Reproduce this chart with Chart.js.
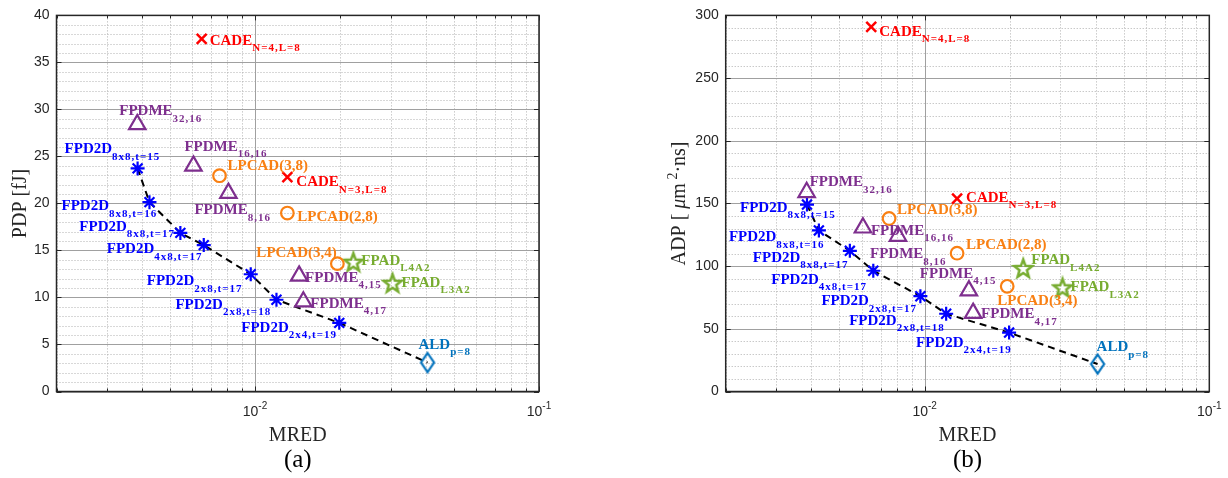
<!DOCTYPE html>
<html>
<head>
<meta charset="utf-8">
<script src="https://cdn.jsdelivr.net/npm/chart.js@4.4.1/dist/chart.umd.min.js"></script>
<style>
  body { margin: 0; background: #fff; }
  .quadro { position: absolute; top: 0; width: 614px; height: 478px; }
</style>
</head>
<body>
<div class="quadro" style="left:0"><canvas id="grafico-pdp"></canvas></div>
<div class="quadro" style="left:614px"><canvas id="grafico-adp"></canvas></div>
<script>
// ---- dados ----
const cadeMred = [0.00649, 0.0130];
const cadePdp = [37.5, 22.8];
const cadeAdp = [290.8, 153.9];
const cadeSub = ['N=4,L=8', 'N=3,L=8'];

const fpdmeMred = [0.00385, 0.00607, 0.00806, 0.0143, 0.0148];
const fpdmePdp = [28.4, 24.0, 21.1, 12.3, 9.55];
const fpdmeAdp = [158.9, 130.6, 124.0, 80.5, 62.5];
const fpdmeSub = ['32,16', '16,16', '8,16', '4,15', '4,17'];

const lpcadMred = [0.0075, 0.0130, 0.0195];
const lpcadPdp = [22.95, 18.98, 13.6];
const lpcadAdp = [138.0, 110.3, 83.9];
const lpcadNomes = ['LPCAD(3,8)', 'LPCAD(2,8)', 'LPCAD(3,4)'];

const fpadMred = [0.0222, 0.0305];
const fpadPdp = [13.8, 11.56];
const fpadAdp = [98.5, 83.1];
const fpadSub = ['L4A2', 'L3A2'];

const fpd2dMred = [0.00386, 0.00425, 0.00546, 0.0066, 0.00966, 0.0119, 0.0198];
const fpd2dPdp = [23.73, 20.14, 16.87, 15.57, 12.47, 9.76, 7.30];
const fpd2dAdp = [149.1, 128.5, 112.2, 96.3, 76.0, 62.0, 47.0];
const fpd2dSub = ['8x8,t=15', '8x8,t=16', '8x8,t=17', '4x8,t=17', '2x8,t=17', '2x8,t=18', '2x4,t=19'];

const aldMred = [0.0405];
const aldPdp = [3.08];
const aldAdp = [21.9];
const aldSub = ['p=8'];

const pdpTicks = [0, 5, 10, 15, 20, 25, 30, 35, 40];
const adpTicks = [0, 50, 100, 150, 200, 250, 300];
const mredTicks = [0.01, 0.1];

// deslocamento dos rótulos (px) em relação ao marcador
const rotulosPdp = {
  cade: [[8, 6], [9, 9]],
  fpdme: [[-18, -9], [-9, -15], [-34, 21], [6, 6], [7, 6]],
  lpcad: [[8, -6], [10, 8], [-81, -7]],
  fpad: [[8, 3], [9, 4]],
  fpd2d: [[-73, -15], [-88, 8], [-101, -2], [-97, 8], [-104, 11], [-101, 9], [-98, 9]],
  ald: [[-9, -14]]
};
const rotulosAdp = {
  cade: [[8, 9], [9, 3]],
  fpdme: [[3, -6], [8, 7], [-28, 22], [-49, -13], [8, 5]],
  lpcad: [[8, -4], [9, -4], [-10, 19]],
  fpad: [[8, -4], [8, 4]],
  fpd2d: [[-67, 7], [-90, 11], [-97, 11], [-102, 13], [-99, 9], [-97, 11], [-93, 14]],
  ald: [[-1, -13]]
};

const CORES = {
  cade: '#FF0000', fpdme: '#7E2F8E', lpcad: '#F98013',
  fpad: '#77AC30', fpd2d: '#0000FF', ald: '#0072BD'
};
const SERIF = '"Liberation Serif", "Times New Roman", serif';
const SANS = '"Liberation Sans", Arial, sans-serif';

function pontos(xs, ys) {
  return xs.map((x, i) => ({ x, y: ys[i] }));
}

function criarPentagrama(cor) {
  const c = document.createElement('canvas');
  c.width = 24; c.height = 24;
  const g = c.getContext('2d');
  g.beginPath();
  for (let k = 0; k < 10; k++) {
    const r = k % 2 === 0 ? 9.5 : 3.9;
    const a = -Math.PI / 2 + k * Math.PI / 5;
    const px = 12 + r * Math.cos(a), py = 13 + r * Math.sin(a);
    if (k === 0) g.moveTo(px, py); else g.lineTo(px, py);
  }
  g.closePath();
  g.strokeStyle = cor; g.lineWidth = 2.5; g.stroke();
  return c;
}

function criarLosango(cor) {
  const c = document.createElement('canvas');
  c.width = 18; c.height = 24;
  const g = c.getContext('2d');
  g.beginPath();
  g.moveTo(9, 2.5); g.lineTo(15.5, 12); g.lineTo(9, 21.5); g.lineTo(2.5, 12);
  g.closePath();
  g.strokeStyle = cor; g.lineWidth = 2.2; g.stroke();
  return c;
}

// desenha uma sequência de trechos [texto, fonte, elevação]
function larguraPartes(ctx, partes) {
  let w = 0;
  partes.forEach(p => { ctx.font = p[1]; w += ctx.measureText(p[0]).width; });
  return w;
}
function desenharPartes(ctx, partes, x, y) {
  partes.forEach(p => {
    ctx.font = p[1];
    ctx.fillText(p[0], x, y + (p[2] || 0));
    x += ctx.measureText(p[0]).width;
  });
}

function pluginDesenho(cfg) {
  return {
    id: 'desenho-' + cfg.letra,
    beforeDatasetsDraw(chart) {
      const { ctx, chartArea: a, scales: { x, y } } = chart;
      const ehDecada = v => Math.abs(Math.log10(v) - Math.round(Math.log10(v))) < 1e-6;
      ctx.save();
      ctx.lineWidth = 1;
      // grade secundária pontilhada
      ctx.setLineDash([1, 2]);
      ctx.strokeStyle = '#b0b0b0';
      x.ticks.forEach(t => {
        if (ehDecada(t.value)) return;
        const px = Math.round(x.getPixelForValue(t.value)) + 0.5;
        ctx.beginPath(); ctx.moveTo(px, a.top); ctx.lineTo(px, a.bottom); ctx.stroke();
      });
      y.ticks.forEach(t => {
        if (cfg.yMaiores.includes(t.value)) return;
        const py = Math.round(y.getPixelForValue(t.value)) + 0.5;
        ctx.beginPath(); ctx.moveTo(a.left, py); ctx.lineTo(a.right, py); ctx.stroke();
      });
      // grade principal
      ctx.setLineDash([]);
      ctx.strokeStyle = '#a0a0a0';
      x.ticks.forEach(t => {
        if (!ehDecada(t.value)) return;
        const px = Math.round(x.getPixelForValue(t.value)) + 0.5;
        ctx.beginPath(); ctx.moveTo(px, a.top); ctx.lineTo(px, a.bottom); ctx.stroke();
      });
      cfg.yMaiores.forEach(v => {
        const py = Math.round(y.getPixelForValue(v)) + 0.5;
        ctx.beginPath(); ctx.moveTo(a.left, py); ctx.lineTo(a.right, py); ctx.stroke();
      });
      ctx.restore();
    },
    afterDatasetsDraw(chart) {
      const { ctx, chartArea: a, scales: { x, y } } = chart;
      ctx.save();
      // rótulos dos pontos
      chart.data.datasets.forEach((ds, i) => {
        if (!ds.rotulos) return;
        const meta = chart.getDatasetMeta(i);
        ctx.fillStyle = ds.rotulos.cor;
        ctx.textAlign = 'left';
        ctx.textBaseline = 'alphabetic';
        meta.data.forEach((el, j) => {
          const [dx, dy] = ds.rotulos.offsets[j];
          const tx = el.x + dx, ty = el.y + dy;
          ctx.font = 'bold 15px ' + SERIF;
          ctx.letterSpacing = '0px';
          const principal = ds.rotulos.principal[j];
          ctx.fillText(principal, tx, ty);
          const sub = ds.rotulos.sub ? ds.rotulos.sub[j] : '';
          if (sub) {
            const w = ctx.measureText(principal).width;
            ctx.font = 'bold 11px ' + SERIF;
            ctx.letterSpacing = '1px';
            ctx.fillText(sub, tx + w, ty + 6.5);
          }
        });
      });
      ctx.letterSpacing = '0px';

      // caixa dos eixos
      ctx.strokeStyle = '#262626';
      ctx.lineWidth = 1.5;
      ctx.strokeRect(a.left, a.top, a.right - a.left, a.bottom - a.top);
      ctx.lineWidth = 1;
      const ehDecada = v => Math.abs(Math.log10(v) - Math.round(Math.log10(v))) < 1e-6;
      x.ticks.forEach(t => {
        const px = Math.round(x.getPixelForValue(t.value)) + 0.5;
        const L = ehDecada(t.value) ? 5 : 3;
        ctx.beginPath();
        ctx.moveTo(px, a.bottom); ctx.lineTo(px, a.bottom - L);
        ctx.moveTo(px, a.top); ctx.lineTo(px, a.top + L);
        ctx.stroke();
      });
      cfg.yMaiores.forEach(v => {
        const py = Math.round(y.getPixelForValue(v)) + 0.5;
        ctx.beginPath();
        ctx.moveTo(a.left, py); ctx.lineTo(a.left + 5, py);
        ctx.moveTo(a.right, py); ctx.lineTo(a.right - 5, py);
        ctx.stroke();
      });

      // rótulos do eixo x (10^-2, 10^-1)
      ctx.fillStyle = '#262626';
      ctx.textBaseline = 'alphabetic';
      ctx.textAlign = 'left';
      mredTicks.forEach(v => {
        const expo = String(Math.round(Math.log10(v)));
        const partes = [['10', '14px ' + SANS, 0], [expo, '10px ' + SANS, -7]];
        const w = larguraPartes(ctx, partes);
        desenharPartes(ctx, partes, x.getPixelForValue(v) - w / 2, a.bottom + 24);
      });

      // título do eixo x e letra do painel
      const cx = (a.left + a.right) / 2;
      ctx.textAlign = 'center';
      ctx.font = '20px ' + SERIF;
      ctx.fillText('MRED', cx, a.bottom + 49);
      ctx.fillStyle = '#000';
      ctx.font = '25px ' + SERIF;
      ctx.fillText('(' + cfg.letra + ')', cx, a.bottom + 75);

      // título do eixo y
      ctx.fillStyle = '#262626';
      ctx.textAlign = 'left';
      ctx.translate(cfg.yTituloX, (a.top + a.bottom) / 2);
      ctx.rotate(-Math.PI / 2);
      const w = larguraPartes(ctx, cfg.yTitulo);
      desenharPartes(ctx, cfg.yTitulo, -w / 2, 0);
      ctx.restore();
    }
  };
}

function montarGrafico(id, cfg) {
  const ctx = document.getElementById(id).getContext('2d');
  const r = cfg.rotulos;
  const v = cfg.valores;
  return new Chart(ctx, {
    type: 'scatter',
    data: {
      datasets: [
        {
          label: 'CADE', data: pontos(cadeMred, v.cade),
          pointStyle: 'crossRot', pointRadius: 7, borderWidth: 2.5,
          borderColor: CORES.cade, backgroundColor: CORES.cade,
          rotulos: { cor: CORES.cade, principal: cadeMred.map(() => 'CADE'), sub: cadeSub, offsets: r.cade }
        },
        {
          label: 'FPDME', data: pontos(fpdmeMred, v.fpdme),
          pointStyle: 'triangle', pointRadius: 9.5, borderWidth: 2.2,
          borderColor: CORES.fpdme, backgroundColor: 'transparent',
          rotulos: { cor: CORES.fpdme, principal: fpdmeMred.map(() => 'FPDME'), sub: fpdmeSub, offsets: r.fpdme }
        },
        {
          label: 'LPCAD', data: pontos(lpcadMred, v.lpcad),
          pointStyle: 'circle', pointRadius: 6.3, borderWidth: 2.2,
          borderColor: CORES.lpcad, backgroundColor: 'transparent',
          rotulos: { cor: CORES.lpcad, principal: lpcadNomes, offsets: r.lpcad }
        },
        {
          label: 'FPAD', data: pontos(fpadMred, v.fpad),
          pointStyle: criarPentagrama(CORES.fpad), pointRadius: 10,
          rotulos: { cor: CORES.fpad, principal: fpadMred.map(() => 'FPAD'), sub: fpadSub, offsets: r.fpad }
        },
        {
          label: 'FPD2D', data: pontos(fpd2dMred, v.fpd2d),
          pointStyle: 'star', pointRadius: 7, borderWidth: 2.2,
          borderColor: CORES.fpd2d, backgroundColor: CORES.fpd2d,
          rotulos: { cor: CORES.fpd2d, principal: fpd2dMred.map(() => 'FPD2D'), sub: fpd2dSub, offsets: r.fpd2d }
        },
        {
          label: 'ALD', data: pontos(aldMred, v.ald),
          pointStyle: criarLosango(CORES.ald), pointRadius: 9,
          rotulos: { cor: CORES.ald, principal: ['ALD'], sub: aldSub, offsets: r.ald }
        },
        {
          // fronteira tracejada FPD2D -> ALD
          label: 'fronteira', order: 10,
          data: pontos(fpd2dMred.concat(aldMred), v.fpd2d.concat(v.ald)),
          showLine: true, pointRadius: 0, borderColor: '#000', borderWidth: 2,
          borderDash: [7, 5], fill: false
        }
      ]
    },
    options: {
      responsive: true,
      maintainAspectRatio: false,
      animation: false,
      events: [],
      layout: { padding: { top: 12.5, right: cfg.direita, left: 0, bottom: 0 } },
      plugins: { legend: { display: false }, tooltip: { enabled: false } },
      scales: {
        x: {
          type: 'logarithmic', min: 0.002, max: 0.1,
          grid: { display: false }, border: { display: false },
          ticks: { display: false },
          afterBuildTicks: s => {
            const t = [];
            for (let e = -3; e <= -1; e++) {
              for (let m = 1; m <= 9; m++) {
                const val = m * Math.pow(10, e);
                if (val >= s.min * 0.999 && val <= s.max * 1.001) t.push({ value: val });
              }
            }
            s.ticks = t;
          },
          afterFit: s => { s.height = 86.5; }
        },
        y: {
          min: 0, max: cfg.yMax,
          grid: { display: false, drawTicks: false }, border: { display: false },
          ticks: {
            stepSize: cfg.yPasso, autoSkip: false, padding: 7,
            color: '#262626', font: { family: SANS, size: 14 },
            callback: val => cfg.yMaiores.includes(val) ? val : ''
          },
          afterFit: s => { s.width = cfg.esquerda; }
        }
      }
    },
    plugins: [pluginDesenho(cfg)]
  });
}

document.addEventListener('DOMContentLoaded', () => {
  montarGrafico('grafico-pdp', {
    letra: 'a', yMax: 40, yPasso: 1, yMaiores: pdpTicks,
    esquerda: 56.5, direita: 75, yTituloX: 26,
    yTitulo: [['PDP [fJ]', '20px ' + SERIF, 0]],
    rotulos: rotulosPdp,
    valores: { cade: cadePdp, fpdme: fpdmePdp, lpcad: lpcadPdp, fpad: fpadPdp, fpd2d: fpd2dPdp, ald: aldPdp }
  });

  montarGrafico('grafico-adp', {
    letra: 'b', yMax: 300, yPasso: 10, yMaiores: adpTicks,
    esquerda: 111.7, direita: 18.7, yTituloX: 71,
    yTitulo: [
      ['ADP [ ', '20px ' + SERIF, 0],
      ['\u03bc', 'italic 20px ' + SERIF, 0],
      ['m', '20px ' + SERIF, 0],
      [' 2', '14px ' + SERIF, -8],
      ['\u00b7ns]', '20px ' + SERIF, 0]
    ],
    rotulos: rotulosAdp,
    valores: { cade: cadeAdp, fpdme: fpdmeAdp, lpcad: lpcadAdp, fpad: fpadAdp, fpd2d: fpd2dAdp, ald: aldAdp }
  });
});
</script>
</body>
</html>
